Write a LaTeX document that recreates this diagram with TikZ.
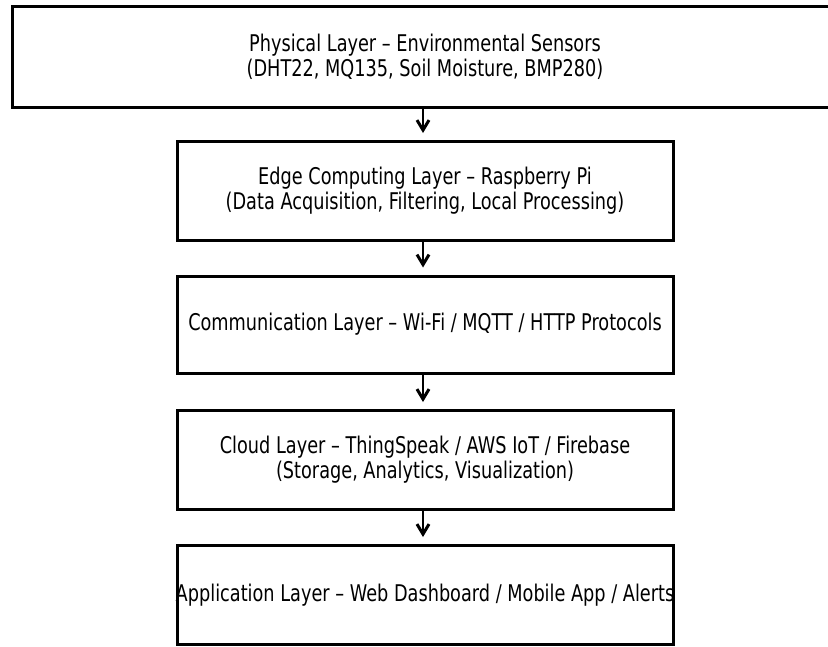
\documentclass[tikz,border=0pt]{standalone}
\usepackage{fontspec}
\setmainfont{DejaVu Sans}[FakeStretch=0.77]
\usetikzlibrary{arrows.meta}

\tikzset{
  layer/.style={draw=black, line width=3pt, minimum width=496pt, minimum height=99pt,
    align=center, inner sep=0pt, font=\fontsize{23}{25}\selectfont},
  flow/.style={line width=2.4pt, -{Straight Barb[length=10pt,width=12pt,line width=3pt]}, shorten >=7pt}
}

\begin{document}
\begin{tikzpicture}[x=1pt,y=-1pt]
			%%%%% START %%%%%
			\useasboundingbox (0,0) rectangle (828,646);
			
			\node[layer, minimum width=826pt, minimum height=101pt] (phys) at (425, 57)
			{Physical Layer – Environmental Sensors\\(DHT22, MQ135, Soil Moisture, BMP280)};
			
			\node[layer] (edge) at (425, 191)
			{Edge Computing Layer – Raspberry Pi\\(Data Acquisition, Filtering, Local Processing)};
			
			\node[layer, minimum height=97pt] (comm) at (425, 324.5)
			{Communication Layer – Wi-Fi / MQTT / HTTP Protocols};
			
			\node[layer] (cloud) at (425, 460)
			{Cloud Layer – ThingSpeak / AWS IoT / Firebase\\(Storage, Analytics, Visualization)};
			
			% text runs past the box edges here
			\node[layer, inner xsep=-6pt] (app) at (425, 595)
			{Application Layer – Web Dashboard / Mobile App / Alerts};
			
			\draw[flow] ([xshift=-2pt]phys.south) -- ([xshift=-2pt]edge.north);
			\draw[flow] ([xshift=-2pt]edge.south) -- ([xshift=-2pt]comm.north);
			\draw[flow] ([xshift=-2pt]comm.south) -- ([xshift=-2pt]cloud.north);
			\draw[flow] ([xshift=-2pt]cloud.south) -- ([xshift=-2pt]app.north);
			
			%%%%% END %%%%%
\end{tikzpicture}
\end{document}
